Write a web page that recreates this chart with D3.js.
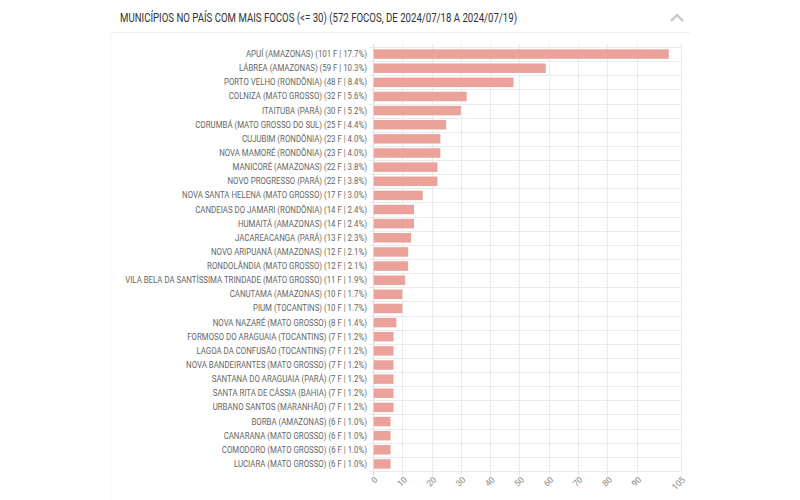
<!DOCTYPE html>
<html>
<head>
<meta charset="utf-8">
<script src="https://cdn.jsdelivr.net/npm/d3@7"></script>
<style>
  body { margin: 0; background: #fff; }
  svg { display: block; font-family: Roboto, "Noto Sans", sans-serif; }
</style>
</head>
<body>
<svg id="chart"></svg>
<script>
// Chart data
const titleText = "MUNICÍPIOS NO PAÍS COM MAIS FOCOS (<= 30) (572 FOCOS, DE 2024/07/18 A 2024/07/19)";
const municipios = [
    "APUÍ (AMAZONAS)", "LÁBREA (AMAZONAS)", "PORTO VELHO (RONDÔNIA)", "COLNIZA (MATO GROSSO)",
    "ITAITUBA (PARÁ)", "CORUMBÁ (MATO GROSSO DO SUL)", "CUJUBIM (RONDÔNIA)", "NOVA MAMORÉ (RONDÔNIA)",
    "MANICORÉ (AMAZONAS)", "NOVO PROGRESSO (PARÁ)", "NOVA SANTA HELENA (MATO GROSSO)",
    "CANDEIAS DO JAMARI (RONDÔNIA)", "HUMAITÁ (AMAZONAS)", "JACAREACANGA (PARÁ)",
    "NOVO ARIPUANÃ (AMAZONAS)", "RONDOLÂNDIA (MATO GROSSO)",
    "VILA BELA DA SANTÍSSIMA TRINDADE (MATO GROSSO)", "CANUTAMA (AMAZONAS)", "PIUM (TOCANTINS)",
    "NOVA NAZARÉ (MATO GROSSO)", "FORMOSO DO ARAGUAIA (TOCANTINS)", "LAGOA DA CONFUSÃO (TOCANTINS)",
    "NOVA BANDEIRANTES (MATO GROSSO)", "SANTANA DO ARAGUAIA (PARÁ)", "SANTA RITA DE CÁSSIA (BAHIA)",
    "URBANO SANTOS (MARANHÃO)", "BORBA (AMAZONAS)", "CANARANA (MATO GROSSO)",
    "COMODORO (MATO GROSSO)", "LUCIARA (MATO GROSSO)"
];
const focos = [101, 59, 48, 32, 30, 25, 23, 23, 22, 22, 17, 14, 14, 13, 12, 12, 11, 10, 10, 8, 7, 7, 7, 7, 7, 7, 6, 6, 6, 6];
const percentuais = ["17.7", "10.3", "8.4", "5.6", "5.2", "4.4", "4.0", "4.0", "3.8", "3.8", "3.0", "2.4", "2.4", "2.3",
    "2.1", "2.1", "1.9", "1.7", "1.7", "1.4", "1.2", "1.2", "1.2", "1.2", "1.2", "1.2", "1.0", "1.0", "1.0", "1.0"];
const xTicks = [0, 10, 20, 30, 40, 50, 60, 70, 80, 90, 105];

const width = 800;
const height = 500;
const margin = { top: 47, right: 120, bottom: 29, left: 373 };

const svg = d3.select("#chart")
    .attr("width", width)
    .attr("height", height);

// Header of the card
svg.append("text")
    .attr("x", 120)
    .attr("y", 22)
    .attr("fill", "#333")
    .attr("font-size", 13.5)
    .attr("font-family", "'Liberation Sans Narrow', Roboto, sans-serif")
    .attr("textLength", 397)
    .attr("lengthAdjust", "spacingAndGlyphs")
    .text(titleText);

svg.append("path")
    .attr("d", "M671,21 L677,15 L683,21")
    .attr("fill", "none")
    .attr("stroke", "#ccc")
    .attr("stroke-width", 2.5);

svg.append("line")
    .attr("x1", 110).attr("x2", 690)
    .attr("y1", 32.5).attr("y2", 32.5)
    .attr("stroke", "#f0f0f0");

svg.append("line")
    .attr("x1", 110.5).attr("x2", 110.5)
    .attr("y1", 32).attr("y2", 500)
    .attr("stroke", "#f7f7f7");

const rows = municipios.map((m, i) => ({
    label: `${m} (${focos[i]} F | ${percentuais[i]}%)`,
    value: focos[i]
}));

const x = d3.scaleLinear()
    .domain([0, 105])
    .range([margin.left, width - margin.right + 0.5]);

const y = d3.scaleBand()
    .domain(rows.map(d => d.label))
    .range([margin.top, height - margin.bottom])
    .paddingInner(0.33)
    .paddingOuter(0.165);

const step = y.step();
const plotTop = margin.top;
const plotBottom = height - margin.bottom;

// Grid: vertical lines at ticks
svg.append("g")
    .selectAll("line")
    .data(xTicks)
    .enter().append("line")
    .attr("x1", d => Math.round(x(d)) + 0.5)
    .attr("x2", d => Math.round(x(d)) + 0.5)
    .attr("y1", plotTop - 3)
    .attr("y2", plotBottom + 5)
    .attr("stroke", d => d === 0 ? "#d8d8d8" : "#ebebeb");

// Grid: horizontal lines between rows
const bounds = d3.range(rows.length + 1).map(i => plotTop + i * step);
svg.append("g")
    .selectAll("line")
    .data(bounds)
    .enter().append("line")
    .attr("x1", margin.left - 4)
    .attr("x2", x(105) + 1)
    .attr("y1", d => Math.round(d) + 0.5)
    .attr("y2", d => Math.round(d) + 0.5)
    .attr("stroke", "#ebebeb");

// Bars
svg.append("g")
    .selectAll("rect")
    .data(rows)
    .enter().append("rect")
    .attr("x", x(0) + 1)
    .attr("y", d => y(d.label))
    .attr("width", d => x(d.value) - x(0) - 1)
    .attr("height", y.bandwidth())
    .attr("fill", "#eaa29b");

// Row labels (slightly condensed like the original font)
svg.append("g")
    .selectAll("text")
    .data(rows)
    .enter().append("text")
    .attr("x", margin.left - 6)
    .attr("y", d => y(d.label) + y.bandwidth() / 2)
    .attr("dy", "0.35em")
    .attr("text-anchor", "end")
    .attr("font-size", 8.6)
    .attr("fill", "#666")
    .text(d => d.label)
    .each(function() {
        const len = this.getComputedTextLength();
        d3.select(this)
            .attr("textLength", len * 0.913)
            .attr("lengthAdjust", "spacingAndGlyphs");
    });

// X tick labels, rotated
svg.append("g")
    .selectAll("text")
    .data(xTicks)
    .enter().append("text")
    .attr("transform", d => `translate(${x(d) + 1},${plotBottom + 5}) rotate(-45)`)
    .attr("text-anchor", "end")
    .attr("dy", "0.7em")
    .attr("font-size", 8.6)
    .attr("fill", "#888")
    .text(d => d);
</script>
</body>
</html>
